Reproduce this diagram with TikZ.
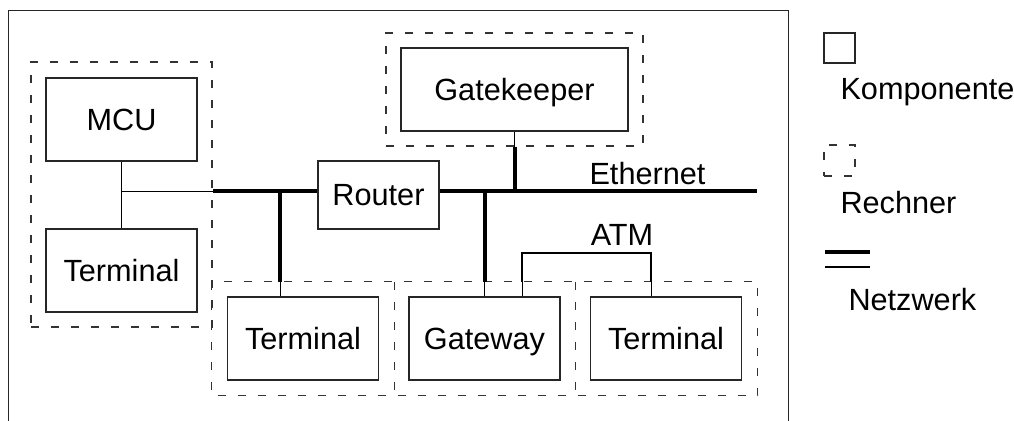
\documentclass[tikz,border=0pt]{standalone}
\usepackage{fontspec}
\setmainfont{Liberation Sans}

\tikzset{every picture/.style={line width=0.75pt}}
\tikzset{
  komp/.style={draw=black!85, line width=0.9pt, minimum width=113.25pt, minimum height=62.25pt, inner sep=0pt, text depth=0pt},
  rechner/.style={draw=black!80, line width=0.9pt, dash pattern=on 6pt off 9pt, inner sep=0pt},
  netz/.style={line width=3pt},
  atmline/.style={line width=1.5pt},
  lbl/.style={inner sep=0pt},
}

\begin{document}
\begin{tikzpicture}[x=0.75pt,y=0.75pt,yscale=-1,xscale=1,font=\fontsize{23}{27}\selectfont]
\useasboundingbox (0,0) rectangle (1014,421);

%Shape: Frame
\draw [black!85] (8,421) -- (8,10) -- (788,10) -- (788,421) ;

%Shape: Rechner (dashed)
\node [rechner, minimum width=135.75pt, minimum height=198.75pt] (r1) at (121.5,194.5) {};
\node [rechner, minimum width=192.75pt, minimum height=84.75pt] (r2) at (514.5,89.5) {};
\node [inner sep=0pt, minimum width=136.5pt, minimum height=84.75pt] (r3) at (303,338.5) {};
\node [inner sep=0pt, minimum width=135.75pt, minimum height=84.75pt] (r4) at (484.5,338.5) {};
\node [inner sep=0pt, minimum width=136.5pt, minimum height=84.75pt] (r5) at (666,338.5) {};
\draw [rechner] (r3.north west) rectangle (r5.south east) ;
\draw [rechner] (r3.north east) -- (r3.south east) ;
\draw [rechner] (r4.north east) -- (r4.south east) ;

%Shape: Komponenten
\node [komp] (mcu) at (121.5,119.5) {MCU};
\node [komp] (term1) at (121.5,270.5) {Terminal};
\node [komp, minimum width=90.75pt, minimum height=51pt] (router) at (378.5,195) {Router};
\node [komp, minimum width=170.25pt] (gk) at (514.5,89.5) {Gatekeeper};
\node [komp] (term2) at (303,338.5) {Terminal};
\node [komp] (gw) at (484.5,338.5) {Gateway};
\node [komp] (term3) at (666,338.5) {Terminal};

%Coordinates
\coordinate (bus) at (121.5,191);
\coordinate (ethend) at (757,191);
\coordinate (abz1) at (280,191);
\coordinate (atm1) at (522,253);
\coordinate (atm2) at (651,253);

%Straight Lines: Ethernet
\draw (mcu) -- (term1) ;
\draw (bus) -- (bus -| r1.east) ;
\draw [netz] (bus -| r1.east) -- (bus -| router.west) ;
\draw [netz] (bus -| router.east) -- (ethend) ;
\draw (gk.south) -- (r2.south) ;
\draw [netz] (r2.south) -- (r2.south |- bus) ;
\draw [netz] (abz1) -- (abz1 |- r3.north) ;
\draw (abz1 |- r3.north) -- (abz1 |- term2.north) ;
\draw [netz] (gw.north |- bus) -- (r4.north) ;
\draw (r4.north) -- (gw.north) ;

%Straight Lines: ATM
\draw [atmline] (atm1 |- r4.north) -- (atm1) -- (atm2) -- (atm2 |- r5.north) ;
\draw (atm1 |- r4.north) -- (atm1 |- gw.north) ;
\draw (atm2 |- r5.north) -- (atm2 |- term3.north) ;

% Text Node
\node [lbl] (eth) at (647.5,173.5) {Ethernet};
% Text Node
\node [lbl] (atm) at (622,234.5) {ATM};

%Legend
\node [draw=black!85, line width=0.9pt, minimum width=23.25pt, minimum height=22.5pt, inner sep=0pt] (legk) at (839.5,48) {};
\node [lbl, anchor=base west] (legktxt) at (840,99) {Komponente};
\node [rechner, minimum width=23.25pt, minimum height=23.25pt] (legr) at (839.5,160.5) {};
\node [lbl, anchor=base west] (legrtxt) at (840,213) {Rechner};
\coordinate (legn1) at (825,252);
\coordinate (legn2) at (870,252);
\coordinate (legn3) at (825,267);
\coordinate (legn4) at (870,267);
\draw [netz] (legn1) -- (legn2) ;
\draw [atmline] (legn3) -- (legn4) ;
\node [lbl, anchor=base west] (legntxt) at (848,310) {Netzwerk};

\end{tikzpicture}
\end{document}
